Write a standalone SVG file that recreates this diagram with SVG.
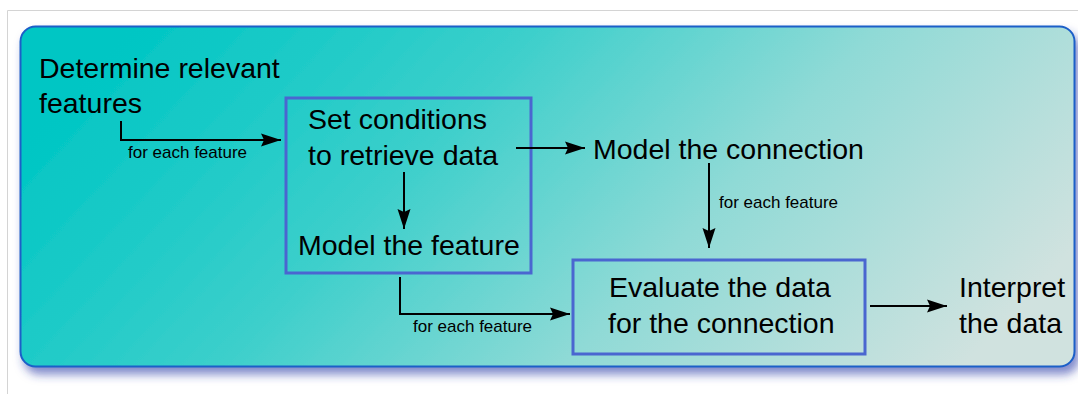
<svg xmlns="http://www.w3.org/2000/svg" width="1078" height="394" viewBox="0 0 1078 394">
  <defs>
    <linearGradient id="bg" x1="0" y1="0.35" x2="1" y2="0.65">
      <stop offset="0" stop-color="#00c6c4"/>
      <stop offset="0.35" stop-color="#3ccfcb"/>
      <stop offset="0.65" stop-color="#8fdad6"/>
      <stop offset="1" stop-color="#d0e2df"/>
    </linearGradient>
    <filter id="sh" x="-5%" y="-10%" width="115%" height="135%">
      <feDropShadow dx="4" dy="7" stdDeviation="5" flood-color="#2a3aa8" flood-opacity="0.6"/>
    </filter>
    <marker id="ah" markerWidth="20" markerHeight="14" refX="20" refY="7" orient="auto" markerUnits="userSpaceOnUse">
      <path d="M0,0.5 L20,7 L0,13.5 L3,7 Z" fill="#000"/>
    </marker>
    <style>
      .big { font-family: "Liberation Sans", Arial, sans-serif; font-size: 28.5px; fill: #000; }
      .lbl { font-family: "Liberation Sans", Arial, sans-serif; font-size: 17px; fill: #000; }
      .box { fill: none; stroke: #4a66d0; stroke-width: 3; }
      .con { fill: none; stroke: #000; stroke-width: 2; marker-end: url(#ah); }
    </style>
  </defs>
  <rect width="1078" height="394" fill="#fff"/>
  <path d="M7.5,394 V10.5 H1078" fill="none" stroke="#d4d4d4" stroke-width="1"/>
  <g id="panel">
    <rect x="20.5" y="26.5" width="1054" height="340" rx="15" ry="15" fill="url(#bg)" stroke="#1c5fc8" stroke-width="2" filter="url(#sh)"/>
  </g>
  <g id="determine">
    <text class="big" x="39" y="78">Determine relevant</text>
    <text class="big" x="39" y="113">features</text>
  </g>
  <g id="setconditions">
    <rect class="box" x="286" y="98" width="245" height="175"/>
    <text class="big" x="308" y="129">Set conditions</text>
    <text class="big" x="308" y="165">to retrieve data</text>
  </g>
  <g id="modelfeature">
    <text class="big" x="298" y="255">Model the feature</text>
  </g>
  <g id="modelconnection">
    <text class="big" x="593" y="159">Model the connection</text>
  </g>
  <g id="evaluate">
    <rect class="box" x="573" y="260" width="292" height="94"/>
    <text class="big" x="609" y="297">Evaluate the data</text>
    <text class="big" x="608" y="333">for the connection</text>
  </g>
  <g id="interpret">
    <text class="big" x="959" y="297">Interpret</text>
    <text class="big" x="959" y="333">the data</text>
  </g>
  <g id="connectors">
    <path class="con" d="M121,121 V140 H281"/>
    <text class="lbl" x="128" y="158">for each feature</text>
    <path class="con" d="M516,148 H585"/>
    <path class="con" d="M404,172 V229"/>
    <path class="con" d="M709,163 V248"/>
    <text class="lbl" x="719" y="208">for each feature</text>
    <path class="con" d="M400,277 V314 H570"/>
    <text class="lbl" x="413" y="332">for each feature</text>
    <path class="con" d="M870,306 H947"/>
  </g>
</svg>
